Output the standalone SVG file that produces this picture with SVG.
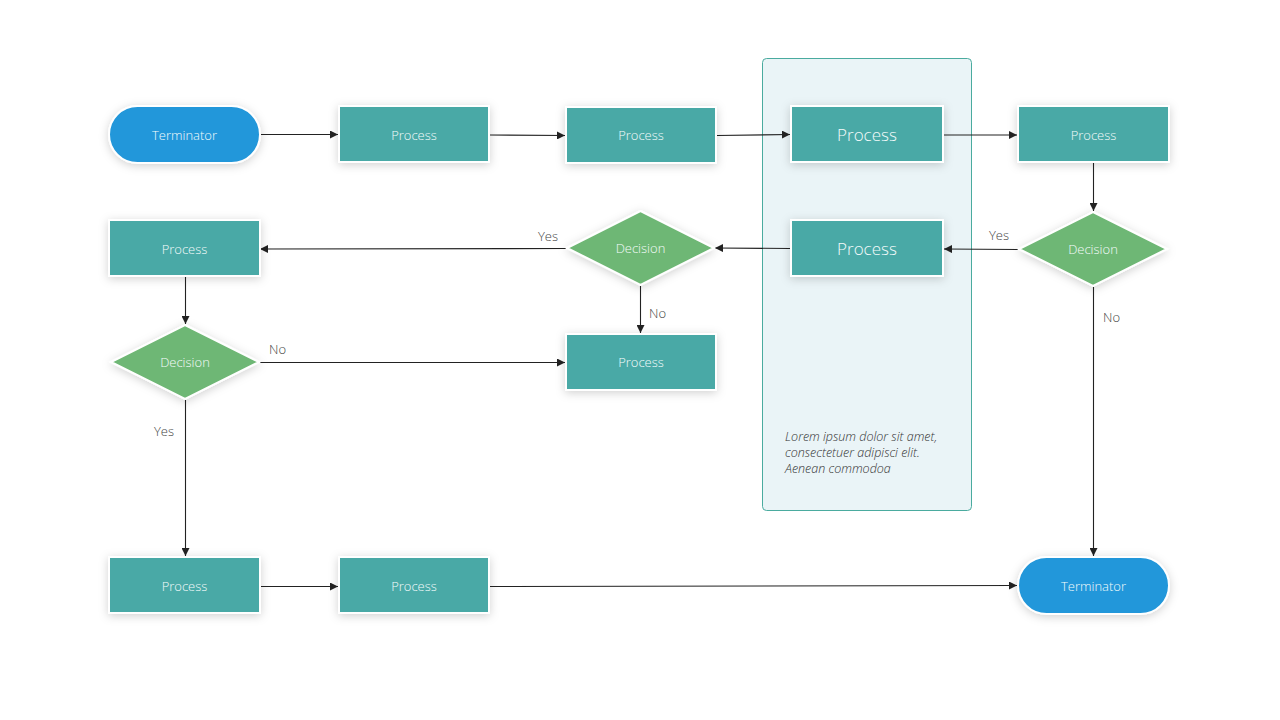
<svg xmlns="http://www.w3.org/2000/svg" width="1280" height="720" viewBox="0 0 1280 720">
<defs>
<filter id="sh" x="-30%" y="-40%" width="160%" height="180%">
<feDropShadow dx="0" dy="2" stdDeviation="5" flood-color="#000" flood-opacity="0.18"/>
</filter>
<marker id="ar" viewBox="0 0 10 10" refX="10" refY="5" markerWidth="8" markerHeight="8" markerUnits="userSpaceOnUse" orient="auto">
<path d="M0,0 L10,5 L0,10 z" fill="#222"/>
</marker>
<style>
.proc{fill:#48a9a6;stroke:#fff;stroke-width:2;filter:url(#sh)}
.term{fill:#2297da;stroke:#fff;stroke-width:2;filter:url(#sh)}
.dec{fill:#6eb774;stroke:#fff;stroke-width:2;filter:url(#sh)}
.t{font-family:"Open Sans","Liberation Sans",sans-serif;font-weight:300;font-size:13px;fill:#f4fbfb;text-anchor:middle;dominant-baseline:central}
.tl{font-size:17px}
.c{fill:none;stroke:#222;stroke-width:1.1;marker-end:url(#ar)}
.lb{font-family:"Open Sans","Liberation Sans",sans-serif;font-weight:300;font-size:13px;fill:#444}
.lo{font-family:"Open Sans","Liberation Sans",sans-serif;font-weight:300;font-size:12.5px;font-style:italic;fill:#333}
</style>
</defs>
<rect width="1280" height="720" fill="#fff"/>
<g id="container">
<rect x="762.5" y="58.5" width="209" height="452" rx="4" fill="#eaf4f7" stroke="#4aab9f" stroke-width="1"/>
<text class="lo" x="785" y="441">Lorem ipsum dolor sit amet,</text>
<text class="lo" x="785" y="457">consectetuer adipisci elit.</text>
<text class="lo" x="785" y="473">Aenean commodoa</text>
</g>
<g id="connectors">
<path class="c" d="M260,134.5 L338,134.5"/>
<path class="c" d="M490,135 L565,135.5"/>
<path class="c" d="M717,135.5 L790,134.5"/>
<path class="c" d="M944,135 L1017,135"/>
<path class="c" d="M1093.5,163 L1093.5,211"/>
<path class="c" d="M1018,249.5 L944,249"/>
<path class="c" d="M790,248.5 L715,248"/>
<path class="c" d="M566,248.5 L260,249"/>
<path class="c" d="M640.5,286 L640.5,333"/>
<path class="c" d="M185.5,277 L185.5,324"/>
<path class="c" d="M260,362.5 L565,362.5"/>
<path class="c" d="M185.5,400 L185.5,556"/>
<path class="c" d="M260,586.5 L338,586.5"/>
<path class="c" d="M490,586.5 L1017,585.5"/>
<path class="c" d="M1093.5,287 L1093.5,556"/>
<text class="lb" x="989" y="240">Yes</text>
<text class="lb" x="538" y="241">Yes</text>
<text class="lb" x="649" y="318">No</text>
<text class="lb" x="269" y="354">No</text>
<text class="lb" x="154" y="436">Yes</text>
<text class="lb" x="1103" y="322">No</text>
</g>
<g id="term1"><rect class="term" x="109" y="106" width="151" height="57" rx="28.5"/><text class="t" x="184.5" y="134.5">Terminator</text></g>
<g id="proc1"><rect class="proc" x="339" y="106" width="150" height="56"/><text class="t" x="414" y="135">Process</text></g>
<g id="proc2"><rect class="proc" x="566" y="107" width="150" height="56"/><text class="t" x="641" y="135">Process</text></g>
<g id="proc3"><rect class="proc" x="791" y="106" width="152" height="56"/><text class="t tl" x="867" y="134">Process</text></g>
<g id="proc4"><rect class="proc" x="1018" y="106" width="151" height="56"/><text class="t" x="1093.5" y="135">Process</text></g>
<g id="dec1"><polygon class="dec" points="1093,212 1167,249 1093,286 1019,249"/><text class="t" x="1093" y="249">Decision</text></g>
<g id="proc5"><rect class="proc" x="791" y="220" width="152" height="56"/><text class="t tl" x="867" y="248">Process</text></g>
<g id="dec2"><polygon class="dec" points="640.5,211 714,248 640.5,285 567,248"/><text class="t" x="640.5" y="248">Decision</text></g>
<g id="proc6"><rect class="proc" x="109" y="220" width="151" height="56"/><text class="t" x="184.5" y="249">Process</text></g>
<g id="proc7"><rect class="proc" x="566" y="334" width="150" height="56"/><text class="t" x="641" y="362">Process</text></g>
<g id="dec3"><polygon class="dec" points="185,325 259,362 185,399 111,362"/><text class="t" x="185" y="362">Decision</text></g>
<g id="proc8"><rect class="proc" x="109" y="557" width="151" height="56"/><text class="t" x="184.5" y="586">Process</text></g>
<g id="proc9"><rect class="proc" x="339" y="557" width="150" height="56"/><text class="t" x="414" y="586">Process</text></g>
<g id="term2"><rect class="term" x="1018" y="557" width="151" height="57" rx="28.5"/><text class="t" x="1093.5" y="585.5">Terminator</text></g>
</svg>
